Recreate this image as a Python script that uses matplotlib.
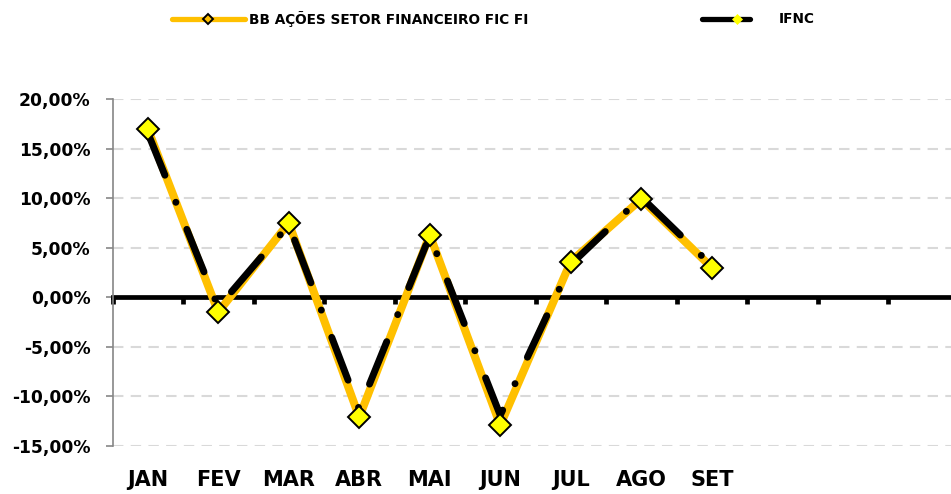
import matplotlib
matplotlib.use("Agg")
import matplotlib.pyplot as plt
from matplotlib.lines import Line2D
from matplotlib.ticker import FuncFormatter, MultipleLocator

# Data (monthly returns, %)
months = ["JAN", "FEV", "MAR", "ABR", "MAI", "JUN", "JUL", "AGO", "SET"]
bb_fund = [17.0, -1.5, 7.5, -12.1, 6.3, -12.9, 3.6, 9.9, 3.0]
ifnc = [16.6, -1.0, 7.3, -11.3, 6.2, -11.9, 3.3, 10.1, 3.2]
label_bb = "BB AÇÕES SETOR FINANCEIRO FIC FI"
label_ifnc = "IFNC"

FONT = "DejaVu Sans"
ORANGE = "#FFC000"
GRID = "#D9D9D9"
AXIS_GRAY = "#868686"

W, H = 951, 494
fig = plt.figure(figsize=(W / 100, H / 100), dpi=100)
fig.patch.set_facecolor("white")

# axes placed in pixel terms
left_px, right_px, top_px, bot_px = 112.5, 951, 99, 446
slot_px = 70.5
ax = fig.add_axes([left_px / W, 1 - bot_px / H,
                   (right_px - left_px) / W, (bot_px - top_px) / H])

x = list(range(len(months)))

ax.plot(x, bb_fund, color=ORANGE, lw=5.8, solid_capstyle="round",
        solid_joinstyle="round", zorder=3)
ax.plot(x, ifnc, color="black", lw=5.0,
        linestyle=(0, (6.6, 4.2, 0.01, 4.2)), dash_capstyle="round",
        zorder=4)
ax.plot(x, bb_fund, linestyle="none", marker="D", markersize=11,
        markerfacecolor="#FFFF00", markeredgecolor="black",
        markeredgewidth=1.4, zorder=5)

# limits
ax.set_ylim(-15, 20)
ax.set_xlim(-0.5, -0.5 + (right_px - left_px) / slot_px)

# y axis
ax.yaxis.set_major_locator(MultipleLocator(5))
ax.yaxis.set_major_formatter(
    FuncFormatter(lambda v, p: f"{v:.2f}%".replace(".", ",")))
ax.tick_params(axis="y", length=5, width=1.2, color=AXIS_GRAY,
               direction="out", pad=11, labelsize=12.3)
for lab in ax.get_yticklabels():
    lab.set_fontweight("bold")
    lab.set_fontfamily(FONT)
ax.spines["left"].set_color(AXIS_GRAY)
ax.spines["left"].set_linewidth(1.2)
ax.yaxis.grid(True, color=GRID, linestyle=(0, (5, 3.5)), linewidth=1.5)
ax.set_axisbelow(True)

# x axis at zero
ax.spines["bottom"].set_position(("data", 0))
ax.spines["bottom"].set_color("black")
ax.spines["bottom"].set_linewidth(3.4)
ax.spines["bottom"].set_zorder(2)
ax.spines["top"].set_visible(False)
ax.spines["right"].set_visible(False)
ax.set_xticks([i - 0.5 for i in range(12)])
ax.set_xticklabels([])
ax.tick_params(axis="x", length=5, width=3.4, color="black", direction="out")

# category labels under the plot area
for i, m in enumerate(months):
    ax.text(i, -0.098, m, transform=ax.get_xaxis_transform(),
            ha="center", va="center", fontsize=15, fontweight="bold",
            fontfamily=FONT, color="black")

# legend drawn by hand on the figure
ly = 1 - 19 / H
fig.add_artist(Line2D([172 / W, 245 / W], [ly, ly], color=ORANGE, lw=3.8,
                      solid_capstyle="round", transform=fig.transFigure))
fig.add_artist(Line2D([208 / W], [ly], marker="D", markersize=5.5,
                      markerfacecolor=ORANGE, markeredgecolor="black",
                      markeredgewidth=1.4, transform=fig.transFigure))
fig.text(249 / W, ly, label_bb, ha="left", va="center", fontsize=9.8,
         fontweight="bold", fontfamily=FONT)

fig.add_artist(Line2D([702 / W, 750 / W], [ly, ly], color="black", lw=3.8,
                      solid_capstyle="round", transform=fig.transFigure))
fig.add_artist(Line2D([737 / W], [ly], marker="D", markersize=5,
                      markerfacecolor="#FFFF00", markeredgecolor="#FFFF00",
                      markeredgewidth=0.5, transform=fig.transFigure))
fig.text(779 / W, ly, label_ifnc, ha="left", va="center", fontsize=9.8,
         fontweight="bold", fontfamily=FONT)

fig.savefig("out.png", dpi=100, facecolor="white")
plt.close(fig)
